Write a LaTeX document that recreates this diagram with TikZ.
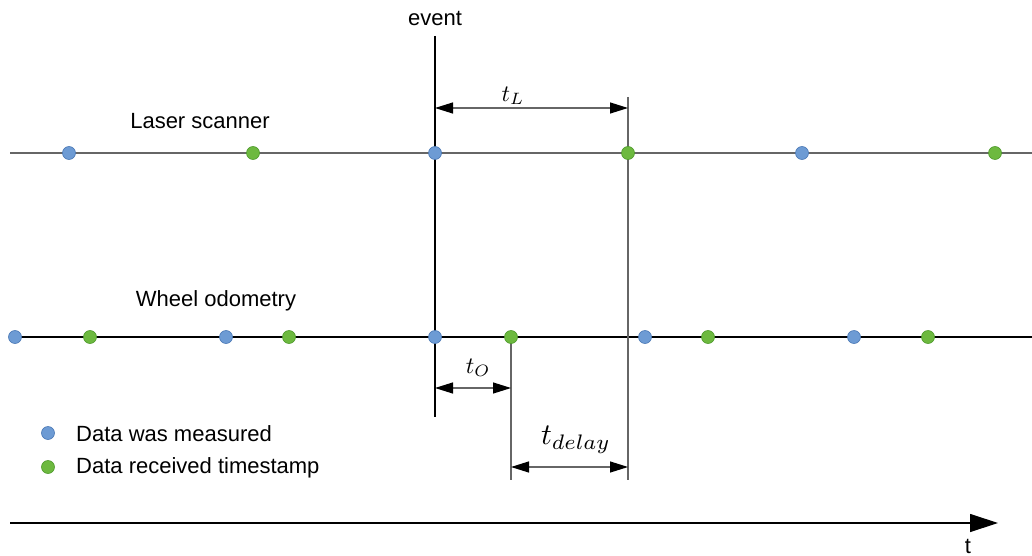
\documentclass[tikz,border=0pt]{standalone}
\usepackage{fontspec}
\setmainfont{Liberation Sans}
\usetikzlibrary{arrows.meta}
\definecolor{bluef}{HTML}{6D9BD4}
\definecolor{blued}{HTML}{4A78B5}
\definecolor{greenf}{HTML}{6DB93F}
\definecolor{greend}{HTML}{4E9A2C}
\definecolor{lgray}{HTML}{666666}
\tikzset{
  meas/.style={circle,fill=bluef,draw=blued,line width=0.6pt,minimum size=13pt,inner sep=0pt},
  recv/.style={circle,fill=greenf,draw=greend,line width=0.6pt,minimum size=13pt,inner sep=0pt},
  lbl/.style={font=\fontsize{22}{26}\selectfont,inner sep=0pt},
  dim/.style={{Triangle[length=18pt,width=11pt,color=black]}-{Triangle[length=18pt,width=11pt,color=black]},line width=1.2pt,lgray},
  tl/.style={line width=1.2pt}
}
\begin{document}
\begin{tikzpicture}[x=1pt,y=-1pt]
\useasboundingbox (0,0) rectangle (1032,556);
% coordinates
\coordinate (L0) at (10,153); \coordinate (L1) at (1032,153);
\coordinate (O0) at (15,337); \coordinate (O1) at (1032,337);
\coordinate (ev0) at (435,36); \coordinate (ev1) at (435,417);
\coordinate (g0) at (628,97); \coordinate (g1) at (628,480);
\coordinate (h0) at (511,337); \coordinate (h1) at (511,480);
\coordinate (ax0) at (10,523); \coordinate (ax1) at (998,523);
% lines
\draw[tl,lgray] (L0) -- (L1);
\draw[tl,black] (O0) -- (O1);
\draw[line width=1.2pt,lgray] (g0) -- (g1);
\draw[line width=1.2pt,lgray] (h0) -- (h1);
\draw[line width=2.4pt,black] (ev0) -- (ev1);
\draw[line width=1.2pt,black,-{Triangle[length=28pt,width=18pt]}] (ax0) -- (ax1);
% laser dots
\node[meas] (l1) at (69,153) {};
\node[recv] (l2) at (253,153) {};
\node[meas] (l3) at (435,153) {};
\node[recv] (l4) at (628,153) {};
\node[meas] (l5) at (802,153) {};
\node[recv] (l6) at (995,153) {};
% odometry dots
\node[meas] (o1) at (15,337) {};
\node[recv] (o2) at (90,337) {};
\node[meas] (o3) at (226,337) {};
\node[recv] (o4) at (289,337) {};
\node[meas] (o5) at (435,337) {};
\node[recv] (o6) at (511,337) {};
\node[meas] (o7) at (645,337) {};
\node[recv] (o8) at (708,337) {};
\node[meas] (o9) at (854,337) {};
\node[recv] (o10) at (928,337) {};
% dimension arrows
\coordinate (tLa) at (435,108); \coordinate (tLb) at (628,108);
\draw[dim] (tLa) -- (tLb);
\coordinate (tOa) at (435,388); \coordinate (tOb) at (511,388);
\draw[dim] (tOa) -- (tOb);
\coordinate (tDa) at (511,467); \coordinate (tDb) at (628,467);
\draw[dim] (tDa) -- (tDb);
% labels
\node[lbl] (evt) at (435,18) {event};
\node[lbl] (ls) at (200,121) {Laser scanner};
\node[lbl] (wo) at (216,301) {Wheel odometry};
\node[inner sep=0pt] (tLl) at (513,96) {\scalebox{2.35}{$t_L$}};
\node[inner sep=0pt] (tOl) at (478,368) {\scalebox{2.35}{$t_O$}};
\node[inner sep=0pt] (tDl) at (576,440) {\scalebox{3.0}{$t_{delay}$}};
\node[lbl,anchor=base] (tax) at (968,553) {t};
% legend
\node[meas] (lg1) at (48,433) {};
\node[recv] (lg2) at (48,467) {};
\node[lbl,anchor=west] (lgt1) at (76,434) {Data was measured};
\node[lbl,anchor=west] (lgt2) at (76,468) {Data received timestamp};
\end{tikzpicture}
\end{document}
